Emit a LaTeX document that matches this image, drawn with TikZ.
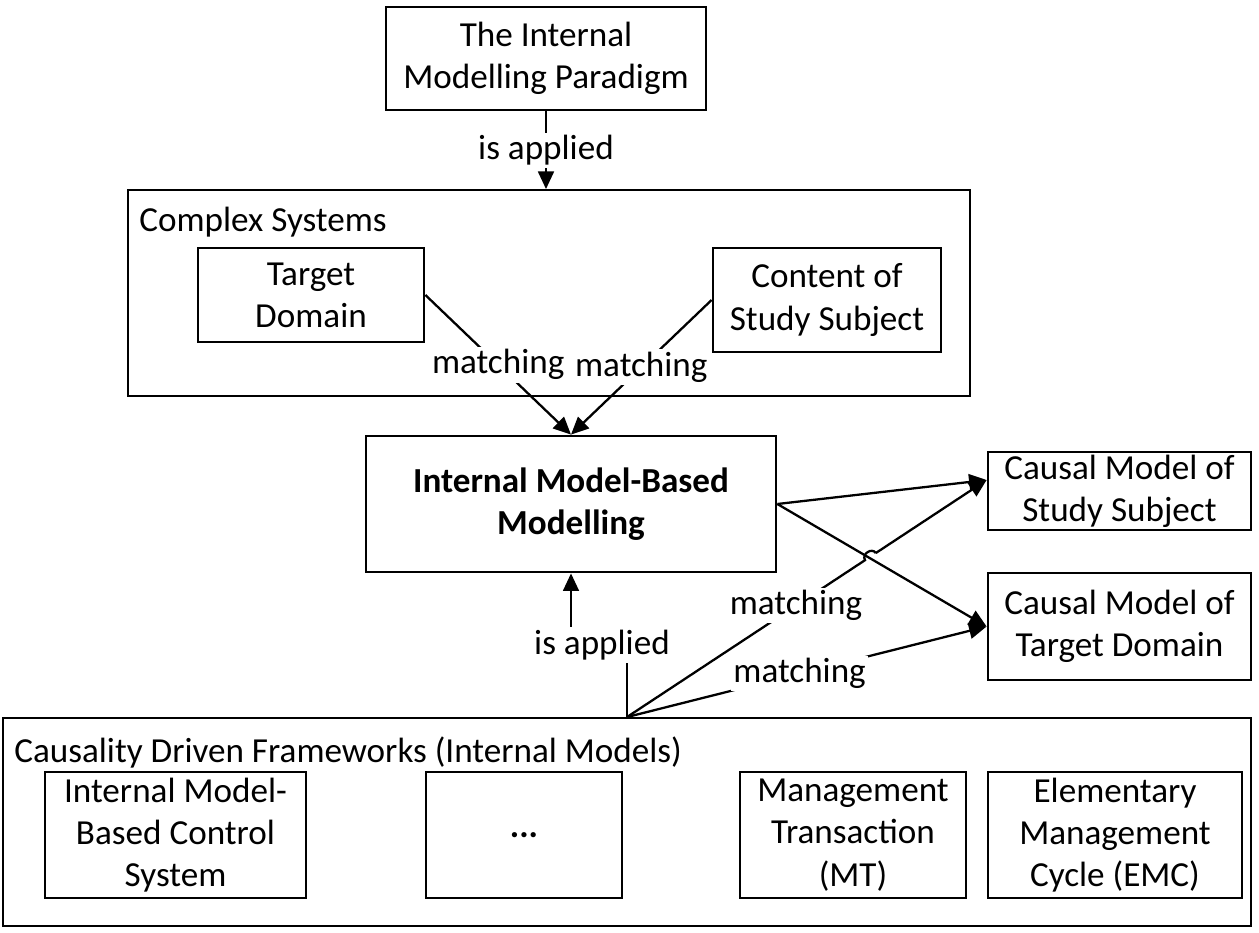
\documentclass[tikz,border=0pt]{standalone}
\usepackage{fontspec}
\setmainfont{Carlito}
\usetikzlibrary{arrows.meta,calc}

\tikzset{
  box/.style={draw, line width=1.6pt, align=center, inner sep=0pt},
  frame/.style={draw, line width=1.1pt, inner sep=0pt},
  lbl/.style={fill=white, inner sep=1.5pt},
  conn/.style={line width=1.3pt},
  arr/.style={conn, -{Triangle[length=10pt,width=9pt]}},
}

\begin{document}
\begin{tikzpicture}[x=0.02cm, y=-0.02cm, font=\fontsize{20}{24}\selectfont]
  \useasboundingbox (0,0) rectangle (1259,933);

  % frames first
  \node[frame, minimum width=16.84cm, minimum height=4.12cm] (CS) at (549,293) {};
  \node[anchor=west, inner sep=0pt] (CSlabel) at (139,222) {Complex Systems};
  \node[frame, minimum width=24.96cm, minimum height=4.16cm] (CDF) at (627,822) {};
  \node[anchor=west, inner sep=0pt] (CDFlabel) at (14,752) {Causality Driven Frameworks (Internal Models)};

  \node[box, minimum width=6.4cm, minimum height=2.06cm] (Paradigm) at (546,58.5) {The Internal\\Modelling Paradigm};
  \node[box, minimum width=4.52cm, minimum height=1.88cm] (TD) at (311,295) {Target\\Domain};
  \node[box, minimum width=4.56cm, minimum height=2.08cm] (CSS) at (827,300) {Content of\\Study Subject};
  \node[box, minimum width=8.2cm, minimum height=2.72cm, font=\fontsize{20}{24}\selectfont\bfseries] (IMB) at (571,504) {Internal Model-Based\\Modelling};
  \node[box, minimum width=5.26cm, minimum height=1.56cm] (CMSS) at (1119.5,491) {Causal Model of\\Study Subject};
  \node[box, minimum width=5.26cm, minimum height=2.14cm] (CMTD) at (1119.5,626.5) {Causal Model of\\Target Domain};

  \node[box, minimum width=5.22cm, minimum height=2.52cm] (IMBCS) at (175.5,835) {Internal Model-\\Based Control\\System};
  \node[box, minimum width=3.92cm, minimum height=2.52cm] (Dots) at (524,835) {\textbf{...}};
  \node[box, minimum width=4.52cm, minimum height=2.52cm] (MT) at (853,835) {Management\\Transaction\\(MT)};
  \node[box, minimum width=5.08cm, minimum height=2.52cm] (EMC) at (1115,835) {Elementary\\Management\\Cycle (EMC)};

  \coordinate (CMSSin) at ([yshift=0.22cm]CMSS.west);

  \draw[arr] (Paradigm.south) -- node[lbl] {is applied} (Paradigm.south |- CS.north);
  \draw[arr] (TD.east) -- node[lbl] {matching} (IMB.north);
  \draw[arr] (CSS.west) -- node[lbl] {matching} (IMB.north);
  \draw[arr] (IMB.east) -- (CMSSin);
  \draw[arr] (IMB.east) -- (CMTD.west);
  \draw[arr] (CDF.north) |- (602,645) node[lbl] {is applied} -| (IMB.south);

  % line hop where it crosses
  \coordinate (hopA) at ($(CDF.north)!0.662!(CMSSin)$);
  \coordinate (hopB) at ($(CDF.north)!0.692!(CMSSin)$);
  \draw[conn] (CDF.north) -- (hopA) to[bend left=90, looseness=1.4] (hopB);
  \draw[arr] (hopB) -- (CMSSin);
  \node[lbl] (match1) at ($(CDF.north)!0.47!(CMSSin)$) {matching};
  \draw[arr] (CDF.north) -- node[lbl, pos=0.48] {matching} (CMTD.west);
\end{tikzpicture}
\end{document}
